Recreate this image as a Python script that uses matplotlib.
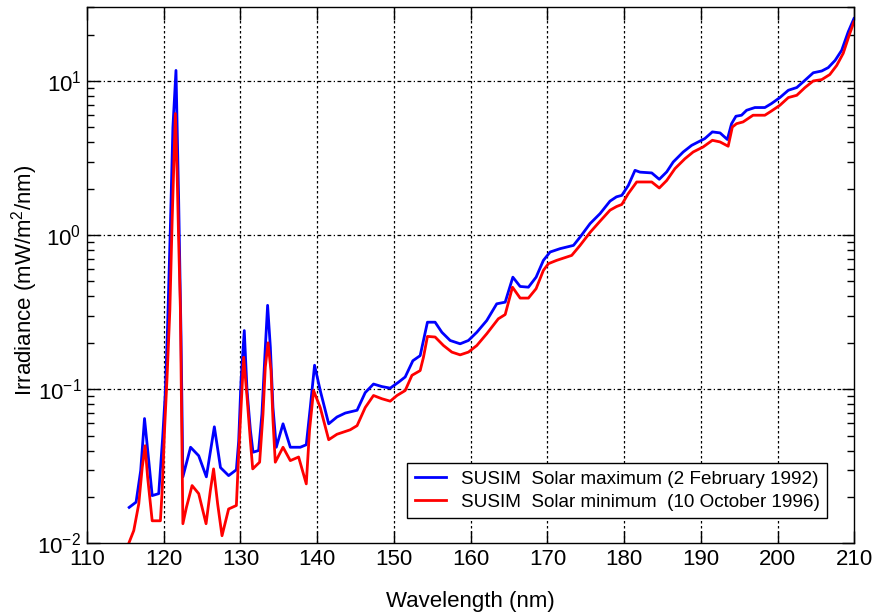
import numpy as np
import matplotlib
import matplotlib.pyplot as plt
from matplotlib.ticker import LogLocator, FixedLocator, NullLocator

matplotlib.use('agg')

# Solar maximum (2 February 1992), wavelength in nm and irradiance in mW/m^2/nm
wl_max = [115.5, 116.4, 117.0, 117.5, 118.05, 118.5, 119.35, 119.87, 120.2, 120.5,
          120.87, 121.2, 121.6, 121.95, 122.26, 122.5, 123.5, 124.56, 125.56, 126.6,
          127.4, 128.46, 129.47, 129.77, 130.08, 130.5, 130.86, 131.3, 131.64, 132.37,
          132.8, 133.2, 133.54, 133.9, 134.24, 134.67, 135.55, 136.5, 137.8, 138.58,
          139.1, 139.66, 140.4, 141.5, 142.58, 143.66, 145.2, 146.26, 147.34, 148.43,
          149.52, 150.6, 151.47, 152.47, 153.42, 153.85, 154.37, 155.37, 156.25, 157.33,
          158.63, 159.71, 160.8, 162.1, 163.4, 164.5, 165.5, 166.45, 167.53, 168.53,
          169.48, 170.35, 171.65, 173.4, 174.26, 175.56, 176.86, 178.16, 179.0, 179.7,
          180.55, 181.42, 182.07, 183.6, 184.58, 185.55, 186.4, 187.7, 188.8, 189.87,
          190.5, 191.5, 192.5, 193.45, 194.0, 194.57, 195.3, 195.96, 197.04, 198.34,
          199.2, 200.3, 201.4, 202.5, 203.57, 204.65, 205.75, 206.6, 207.5, 208.35,
          209.2, 209.95]
irr_max = [0.0171, 0.0185, 0.0296, 0.0645, 0.0344, 0.0204, 0.021, 0.049, 0.093, 0.25,
           1.13, 5.0, 11.7, 1.68, 0.22, 0.027, 0.042, 0.037, 0.027, 0.057,
           0.031, 0.0275, 0.030, 0.046, 0.114, 0.24, 0.098, 0.054, 0.039, 0.040,
           0.069, 0.17, 0.35, 0.187, 0.076, 0.042, 0.0596, 0.042, 0.042, 0.0436,
           0.076, 0.143, 0.098, 0.0596, 0.066, 0.07, 0.073, 0.095, 0.108, 0.104,
           0.1016, 0.111, 0.12, 0.153, 0.165, 0.207, 0.272, 0.272, 0.234, 0.207,
           0.197, 0.207, 0.234, 0.279, 0.358, 0.367, 0.533, 0.464, 0.459, 0.533,
           0.685, 0.776, 0.816, 0.857, 0.97, 1.186, 1.377, 1.66, 1.77, 1.81,
           2.1, 2.63, 2.56, 2.53, 2.3, 2.57, 2.98, 3.46, 3.82, 4.07,
           4.22, 4.67, 4.6, 4.17, 5.28, 5.9, 5.99, 6.45, 6.72, 6.72,
           7.13, 7.8, 8.7, 9.06, 10.1, 11.3, 11.6, 12.2, 13.6, 15.8,
           20.8, 25.4]

# Solar minimum (10 October 1996)
wl_min = [115.2, 116.1, 116.75, 117.2, 117.58, 117.9, 118.5, 119.57, 119.8, 120.13,
          120.44, 120.8, 121.1, 121.52, 121.74, 121.95, 122.17, 122.3, 122.5, 122.96,
          123.7, 124.56, 125.52, 126.08, 126.5, 127.03, 127.6, 128.46, 129.47, 129.77,
          130.08, 130.42, 130.86, 131.3, 131.6, 132.5, 132.94, 133.24, 133.6, 133.98,
          134.24, 134.54, 135.55, 136.5, 137.58, 138.58, 139.0, 139.53, 140.4, 141.5,
          142.58, 144.3, 145.2, 146.26, 147.34, 148.43, 149.52, 150.4, 151.47, 152.35,
          153.42, 153.85, 154.37, 155.37, 156.46, 157.55, 158.63, 159.71, 160.8, 162.1,
          163.6, 164.5, 165.45, 166.45, 167.53, 168.53, 169.48, 170.13, 171.2, 173.17,
          174.26, 175.56, 176.86, 178.16, 179.0, 179.7, 180.55, 181.64, 183.6, 184.58,
          185.55, 186.63, 187.93, 189.0, 190.3, 191.5, 192.5, 193.56, 194.1, 194.65,
          195.5, 196.8, 198.34, 199.2, 200.3, 201.4, 202.5, 203.57, 204.65, 205.75,
          206.8, 207.7, 208.55, 209.33, 209.95]
irr_min = [0.0093, 0.0121, 0.018, 0.031, 0.043, 0.027, 0.014, 0.014, 0.022, 0.057,
           0.12, 0.324, 1.24, 6.14, 2.63, 0.92, 0.34, 0.093, 0.0134, 0.0171,
           0.0237, 0.021, 0.0134, 0.022, 0.0304, 0.018, 0.0112, 0.0167, 0.0176, 0.038,
           0.076, 0.161, 0.089, 0.046, 0.0304, 0.0336, 0.069, 0.139, 0.20, 0.132,
           0.063, 0.0336, 0.042, 0.0344, 0.0363, 0.0243, 0.054, 0.098, 0.076, 0.047,
           0.051, 0.0545, 0.058, 0.076, 0.091, 0.0867, 0.0836, 0.091, 0.098, 0.123,
           0.132, 0.161, 0.22, 0.218, 0.192, 0.174, 0.167, 0.174, 0.192, 0.229,
           0.286, 0.305, 0.459, 0.39, 0.39, 0.449, 0.59, 0.652, 0.685, 0.738,
           0.857, 1.04, 1.23, 1.45, 1.53, 1.58, 1.86, 2.21, 2.21, 2.02,
           2.26, 2.7, 3.13, 3.46, 3.73, 4.12, 4.02, 3.77, 5.02, 5.28,
           5.42, 5.99, 5.99, 6.38, 6.95, 7.8, 8.07, 9.06, 10.0, 10.2,
           11.0, 12.6, 15.1, 19.8, 24.2]

x_ticks = [110, 120, 130, 140, 150, 160, 170, 180, 190, 200, 210]

plt.rcParams['font.family'] = ['Liberation Sans', 'DejaVu Sans']
plt.rcParams['mathtext.fontset'] = 'custom'
plt.rcParams['mathtext.rm'] = 'Liberation Sans'

fig = plt.figure(figsize=(8.74, 6.16), dpi=100)
ax = fig.add_axes([0.0995, 0.118, 0.878, 0.870])

# Data lines
ax.plot(wl_max, irr_max, color='#0000ff', lw=2.0,
        label='SUSIM  Solar maximum (2 February 1992)')
ax.plot(wl_min, irr_min, color='#ff0000', lw=2.0,
        label='SUSIM  Solar minimum  (10 October 1996)')

# Axes and scales
ax.set_yscale('log')
ax.set_xlim(110, 210)
ax.set_ylim(0.01, 30)
ax.xaxis.set_major_locator(FixedLocator(x_ticks))
ax.xaxis.set_minor_locator(NullLocator())
ax.yaxis.set_major_locator(LogLocator(base=10, numticks=10))
ax.yaxis.set_minor_locator(LogLocator(base=10, subs=np.arange(2, 10), numticks=10))

# Grid
for y in [0.1, 1, 10]:
    ax.axhline(y, color='black', lw=0.9, ls=(0, (3, 2, 1, 2)), zorder=0)
for x in x_ticks[1:-1]:
    ax.axvline(x, color='black', lw=0.9, ls=(0, (2, 2)), zorder=0)

# Ticks
ax.tick_params(which='both', direction='in', top=True, right=True,
               labelsize=16, width=1.0)
ax.tick_params(which='major', length=9, pad=4)
ax.tick_params(which='minor', length=5)
for spine in ax.spines.values():
    spine.set_linewidth(1.0)

# Labels
ax.set_xlabel('Wavelength (nm)', fontsize=16, labelpad=15)
ax.set_ylabel('Irradiance (mW/m$^2$/nm)', fontsize=16)
ax.yaxis.set_label_coords(-0.061, 0.49)

# Legend
leg = ax.legend(loc='lower right', bbox_to_anchor=(0.965, 0.047), fontsize=13.6,
                frameon=True, fancybox=False, framealpha=1, edgecolor='black',
                handlelength=1.65, handletextpad=0.8, borderpad=0.4,
                labelspacing=0.3, borderaxespad=0)
leg.get_frame().set_linewidth(1.0)

plt.savefig('out.png', dpi=100)
plt.close()
